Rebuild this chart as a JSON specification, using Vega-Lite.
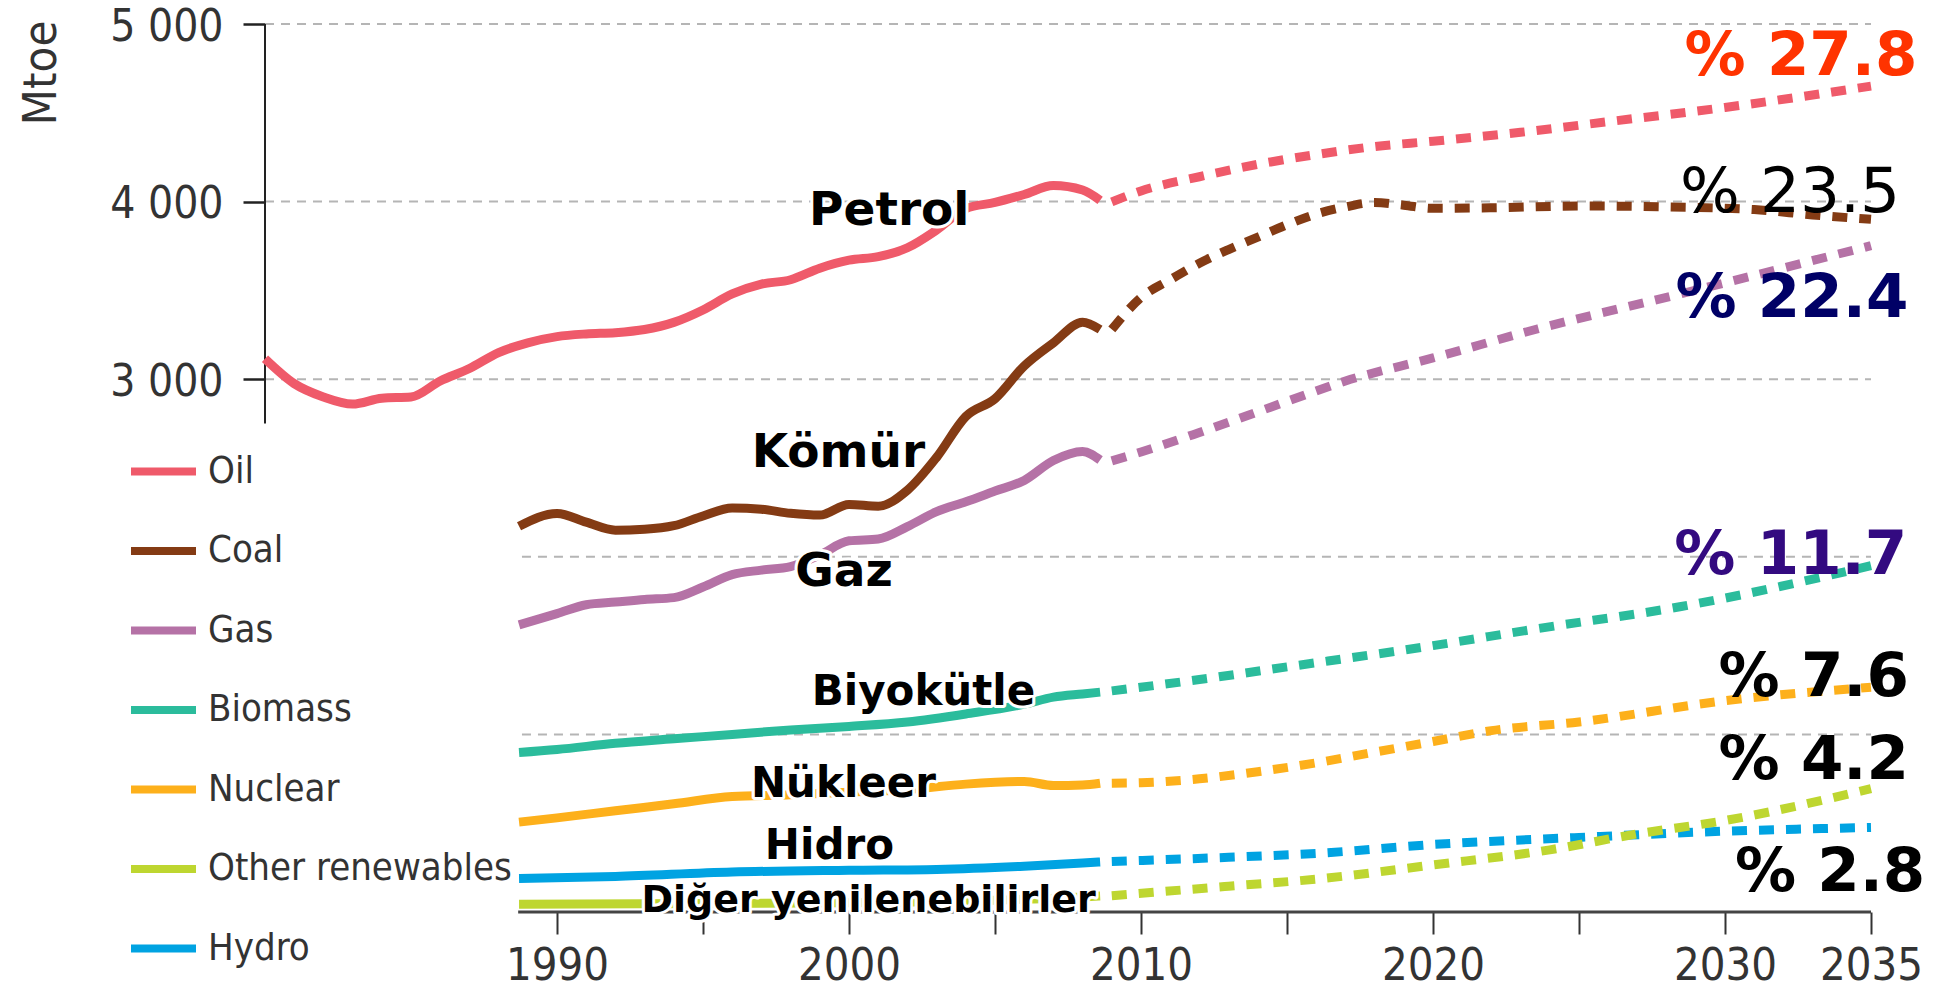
{
  "$schema": "https://vega.github.io/schema/vega-lite/v6.json",
  "width": 1606,
  "height": 888,
  "autosize": "none",
  "padding": {"left": 265, "top": 24, "right": 81, "bottom": 81},
  "background": "white",
  "config": {"view": {"stroke": null}},
  "datasets": {
    "hist": [
      {"fuel": "Oil", "year": 1980, "value": 3115}, {"fuel": "Oil", "year": 1981, "value": 2975}, {"fuel": "Oil", "year": 1982, "value": 2900}, {"fuel": "Oil", "year": 1983, "value": 2860}, {"fuel": "Oil", "year": 1984, "value": 2893}, {"fuel": "Oil", "year": 1985, "value": 2900}, {"fuel": "Oil", "year": 1986, "value": 2990}, {"fuel": "Oil", "year": 1987, "value": 3060}, {"fuel": "Oil", "year": 1988, "value": 3150}, {"fuel": "Oil", "year": 1989, "value": 3205}, {"fuel": "Oil", "year": 1990, "value": 3240}, {"fuel": "Oil", "year": 1991, "value": 3255}, {"fuel": "Oil", "year": 1992, "value": 3262}, {"fuel": "Oil", "year": 1993, "value": 3280}, {"fuel": "Oil", "year": 1994, "value": 3320}, {"fuel": "Oil", "year": 1995, "value": 3390}, {"fuel": "Oil", "year": 1996, "value": 3480}, {"fuel": "Oil", "year": 1997, "value": 3535}, {"fuel": "Oil", "year": 1998, "value": 3560}, {"fuel": "Oil", "year": 1999, "value": 3625}, {"fuel": "Oil", "year": 2000, "value": 3670}, {"fuel": "Oil", "year": 2001, "value": 3690}, {"fuel": "Oil", "year": 2002, "value": 3740}, {"fuel": "Oil", "year": 2003, "value": 3840}, {"fuel": "Oil", "year": 2004, "value": 3960}, {"fuel": "Oil", "year": 2005, "value": 3995}, {"fuel": "Oil", "year": 2006, "value": 4040}, {"fuel": "Oil", "year": 2007, "value": 4090}, {"fuel": "Oil", "year": 2008, "value": 4065}, {"fuel": "Oil", "year": 2008.6, "value": 4007},
      {"fuel": "Coal", "year": 1988.7, "value": 2172}, {"fuel": "Coal", "year": 1990, "value": 2244}, {"fuel": "Coal", "year": 1991, "value": 2195}, {"fuel": "Coal", "year": 1992, "value": 2150}, {"fuel": "Coal", "year": 1993, "value": 2155}, {"fuel": "Coal", "year": 1994, "value": 2175}, {"fuel": "Coal", "year": 1995, "value": 2230}, {"fuel": "Coal", "year": 1996, "value": 2275}, {"fuel": "Coal", "year": 1997, "value": 2268}, {"fuel": "Coal", "year": 1998, "value": 2245}, {"fuel": "Coal", "year": 1999, "value": 2235}, {"fuel": "Coal", "year": 2000, "value": 2295}, {"fuel": "Coal", "year": 2001, "value": 2285}, {"fuel": "Coal", "year": 2002, "value": 2375}, {"fuel": "Coal", "year": 2003, "value": 2560}, {"fuel": "Coal", "year": 2004, "value": 2790}, {"fuel": "Coal", "year": 2005, "value": 2890}, {"fuel": "Coal", "year": 2006, "value": 3075}, {"fuel": "Coal", "year": 2007, "value": 3205}, {"fuel": "Coal", "year": 2008, "value": 3321}, {"fuel": "Coal", "year": 2008.6, "value": 3280},
      {"fuel": "Gas", "year": 1988.7, "value": 1617}, {"fuel": "Gas", "year": 1990, "value": 1680}, {"fuel": "Gas", "year": 1991, "value": 1730}, {"fuel": "Gas", "year": 1992, "value": 1745}, {"fuel": "Gas", "year": 1993, "value": 1760}, {"fuel": "Gas", "year": 1994, "value": 1770}, {"fuel": "Gas", "year": 1995, "value": 1830}, {"fuel": "Gas", "year": 1996, "value": 1900}, {"fuel": "Gas", "year": 1997, "value": 1925}, {"fuel": "Gas", "year": 1998, "value": 1945}, {"fuel": "Gas", "year": 1999, "value": 2010}, {"fuel": "Gas", "year": 2000, "value": 2090}, {"fuel": "Gas", "year": 2001, "value": 2100}, {"fuel": "Gas", "year": 2002, "value": 2170}, {"fuel": "Gas", "year": 2003, "value": 2254}, {"fuel": "Gas", "year": 2004, "value": 2310}, {"fuel": "Gas", "year": 2005, "value": 2370}, {"fuel": "Gas", "year": 2006, "value": 2430}, {"fuel": "Gas", "year": 2007, "value": 2542}, {"fuel": "Gas", "year": 2008, "value": 2593}, {"fuel": "Gas", "year": 2008.6, "value": 2545},
      {"fuel": "Biomass", "year": 1988.7, "value": 898}, {"fuel": "Biomass", "year": 1990, "value": 915}, {"fuel": "Biomass", "year": 1992, "value": 950}, {"fuel": "Biomass", "year": 1994, "value": 975}, {"fuel": "Biomass", "year": 1996, "value": 1000}, {"fuel": "Biomass", "year": 1998, "value": 1025}, {"fuel": "Biomass", "year": 2000, "value": 1045}, {"fuel": "Biomass", "year": 2002, "value": 1070}, {"fuel": "Biomass", "year": 2004, "value": 1115}, {"fuel": "Biomass", "year": 2006, "value": 1170}, {"fuel": "Biomass", "year": 2007, "value": 1210}, {"fuel": "Biomass", "year": 2008, "value": 1228}, {"fuel": "Biomass", "year": 2008.6, "value": 1238},
      {"fuel": "Nuclear", "year": 1988.7, "value": 506}, {"fuel": "Nuclear", "year": 1990, "value": 530}, {"fuel": "Nuclear", "year": 1992, "value": 570}, {"fuel": "Nuclear", "year": 1994, "value": 609}, {"fuel": "Nuclear", "year": 1996, "value": 650}, {"fuel": "Nuclear", "year": 1998, "value": 660}, {"fuel": "Nuclear", "year": 2000, "value": 675}, {"fuel": "Nuclear", "year": 2002, "value": 690}, {"fuel": "Nuclear", "year": 2004, "value": 720}, {"fuel": "Nuclear", "year": 2006, "value": 735}, {"fuel": "Nuclear", "year": 2007, "value": 712}, {"fuel": "Nuclear", "year": 2008, "value": 715}, {"fuel": "Nuclear", "year": 2008.6, "value": 725},
      {"fuel": "Other renewables", "year": 1988.7, "value": 44}, {"fuel": "Other renewables", "year": 1995, "value": 48}, {"fuel": "Other renewables", "year": 2000, "value": 52}, {"fuel": "Other renewables", "year": 2005, "value": 66}, {"fuel": "Other renewables", "year": 2008, "value": 85}, {"fuel": "Other renewables", "year": 2008.6, "value": 90},
      {"fuel": "Hydro", "year": 1988.7, "value": 188}, {"fuel": "Hydro", "year": 1992, "value": 200}, {"fuel": "Hydro", "year": 1996, "value": 225}, {"fuel": "Hydro", "year": 2000, "value": 235}, {"fuel": "Hydro", "year": 2003, "value": 240}, {"fuel": "Hydro", "year": 2006, "value": 258}, {"fuel": "Hydro", "year": 2008, "value": 276}, {"fuel": "Hydro", "year": 2008.6, "value": 282}
    ],
    "proj": [
      {"fuel": "Oil", "year": 2009, "value": 3998}, {"fuel": "Oil", "year": 2010, "value": 4060}, {"fuel": "Oil", "year": 2012, "value": 4140}, {"fuel": "Oil", "year": 2014, "value": 4210}, {"fuel": "Oil", "year": 2016, "value": 4265}, {"fuel": "Oil", "year": 2018, "value": 4310}, {"fuel": "Oil", "year": 2020, "value": 4340}, {"fuel": "Oil", "year": 2023, "value": 4390}, {"fuel": "Oil", "year": 2026, "value": 4450}, {"fuel": "Oil", "year": 2030, "value": 4530}, {"fuel": "Oil", "year": 2035, "value": 4650},
      {"fuel": "Coal", "year": 2009, "value": 3280}, {"fuel": "Coal", "year": 2010, "value": 3460}, {"fuel": "Coal", "year": 2011, "value": 3560}, {"fuel": "Coal", "year": 2012, "value": 3653}, {"fuel": "Coal", "year": 2013, "value": 3730}, {"fuel": "Coal", "year": 2014, "value": 3800}, {"fuel": "Coal", "year": 2015, "value": 3870}, {"fuel": "Coal", "year": 2016, "value": 3930}, {"fuel": "Coal", "year": 2017, "value": 3970}, {"fuel": "Coal", "year": 2018, "value": 3995}, {"fuel": "Coal", "year": 2019, "value": 3980}, {"fuel": "Coal", "year": 2020, "value": 3962}, {"fuel": "Coal", "year": 2022, "value": 3965}, {"fuel": "Coal", "year": 2025, "value": 3975}, {"fuel": "Coal", "year": 2028, "value": 3970}, {"fuel": "Coal", "year": 2031, "value": 3955}, {"fuel": "Coal", "year": 2033, "value": 3925}, {"fuel": "Coal", "year": 2035, "value": 3900},
      {"fuel": "Gas", "year": 2009, "value": 2540}, {"fuel": "Gas", "year": 2010, "value": 2590}, {"fuel": "Gas", "year": 2012, "value": 2700}, {"fuel": "Gas", "year": 2015, "value": 2875}, {"fuel": "Gas", "year": 2017, "value": 2990}, {"fuel": "Gas", "year": 2020, "value": 3120}, {"fuel": "Gas", "year": 2023.6, "value": 3284}, {"fuel": "Gas", "year": 2028.5, "value": 3481}, {"fuel": "Gas", "year": 2035, "value": 3752},
      {"fuel": "Biomass", "year": 2009, "value": 1245}, {"fuel": "Biomass", "year": 2012, "value": 1309}, {"fuel": "Biomass", "year": 2015, "value": 1380}, {"fuel": "Biomass", "year": 2020, "value": 1500}, {"fuel": "Biomass", "year": 2023.6, "value": 1596}, {"fuel": "Biomass", "year": 2028.5, "value": 1720}, {"fuel": "Biomass", "year": 2035, "value": 1950},
      {"fuel": "Nuclear", "year": 2009, "value": 725}, {"fuel": "Nuclear", "year": 2010, "value": 728}, {"fuel": "Nuclear", "year": 2012, "value": 750}, {"fuel": "Nuclear", "year": 2014, "value": 790}, {"fuel": "Nuclear", "year": 2016, "value": 840}, {"fuel": "Nuclear", "year": 2018, "value": 900}, {"fuel": "Nuclear", "year": 2020, "value": 960}, {"fuel": "Nuclear", "year": 2022, "value": 1021}, {"fuel": "Nuclear", "year": 2025, "value": 1070}, {"fuel": "Nuclear", "year": 2030, "value": 1190}, {"fuel": "Nuclear", "year": 2035, "value": 1265},
      {"fuel": "Hydro", "year": 2009, "value": 285}, {"fuel": "Hydro", "year": 2013, "value": 308}, {"fuel": "Hydro", "year": 2016, "value": 330}, {"fuel": "Hydro", "year": 2020, "value": 380}, {"fuel": "Hydro", "year": 2025, "value": 420}, {"fuel": "Hydro", "year": 2030, "value": 455}, {"fuel": "Hydro", "year": 2035, "value": 476},
      {"fuel": "Other renewables", "year": 2009, "value": 92}, {"fuel": "Other renewables", "year": 2013, "value": 145}, {"fuel": "Other renewables", "year": 2016, "value": 185}, {"fuel": "Other renewables", "year": 2020, "value": 265}, {"fuel": "Other renewables", "year": 2024, "value": 350}, {"fuel": "Other renewables", "year": 2027, "value": 440}, {"fuel": "Other renewables", "year": 2030, "value": 515}, {"fuel": "Other renewables", "year": 2035, "value": 695}
    ],
    "grid": [
      {"value": 5000, "from": 1980, "to": 2035},
      {"value": 4000, "from": 1980, "to": 2035},
      {"value": 3000, "from": 1980, "to": 2035},
      {"value": 2000, "from": 1988.8, "to": 2035},
      {"value": 1000, "from": 1988.8, "to": 2035}
    ],
    "labels": [
      {"label": "Petrol", "year": 2001.38, "value": 3867},
      {"label": "Kömür", "year": 1999.64, "value": 2508},
      {"label": "Gaz", "year": 1999.83, "value": 1833},
      {"label": "Biyokütle", "year": 2002.55, "value": 1164},
      {"label": "Nükleer", "year": 1999.81, "value": 647},
      {"label": "Hidro", "year": 1999.33, "value": 301},
      {"label": "Diğer yenilenebilirler", "year": 2000.67, "value": 0}
    ],
    "shares": [
      {"label": "% 27.8", "year": 2036.59, "value": 4711},
      {"label": "% 23.5", "year": 2036.0, "value": 3941},
      {"label": "% 22.4", "year": 2036.28, "value": 3350},
      {"label": "% 11.7", "year": 2036.24, "value": 1904},
      {"label": "% 7.6", "year": 2036.3, "value": 1219},
      {"label": "% 4.2", "year": 2036.3, "value": 750},
      {"label": "% 2.8", "year": 2036.86, "value": 121}
    ]
  },
  "layer": [
    {
      "data": {"name": "grid"},
      "mark": {"type": "rule", "stroke": "#B5B5B5", "strokeWidth": 2, "strokeDash": [9, 7]},
      "encoding": {
        "x": {
          "field": "from", "type": "quantitative", "title": null,
          "scale": {"domain": [1980, 2035], "nice": false, "zero": false},
          "axis": {
            "title": null,
            "values": [1990, 1995, 2000, 2005, 2010, 2015, 2020, 2025, 2030, 2035],
            "labelExpr": "(datum.value % 10 == 0 || datum.value == 2035) ? ('' + datum.value) : ''",
            "domain": false, "grid": false,
            "tickSize": 22, "tickWidth": 2, "tickColor": "#333333",
            "labelPadding": 9, "labelBaseline": "top",
            "labelFont": "DejaVu Sans Condensed, Liberation Sans, sans-serif", "labelFontSize": 45, "labelColor": "#333333",
            "labelFlush": false, "labelOverlap": false
          }
        },
        "x2": {"field": "to"},
        "y": {
          "field": "value", "type": "quantitative", "title": "Mtoe",
          "scale": {"domain": [0, 5000], "nice": false},
          "axis": {
            "title": "Mtoe",
            "values": [3000, 4000, 5000],
            "labelExpr": "replace(format(datum.value, ','), ',', ' ')",
            "domain": false, "grid": false,
            "tickSize": 22, "tickWidth": 2.5, "tickColor": "#222222",
            "labelPadding": 20, "labelOffset": 3,
            "labelFont": "DejaVu Sans Condensed, Liberation Sans, sans-serif", "labelFontSize": 44, "labelColor": "#333333",
            "labelFlush": false, "labelOverlap": false,
            "titleFont": "DejaVu Sans Condensed, Liberation Sans, sans-serif", "titleFontSize": 47, "titleFontWeight": "normal", "titleColor": "#333333",
            "titleAngle": 270, "titleAlign": "right", "titleBaseline": "alphabetic",
            "titleX": -210, "titleY": -4
          }
        }
      }
    },
    {
      "data": {"values": [{"year": 1980, "lo": 2751, "hi": 5000}]},
      "mark": {"type": "rule", "stroke": "#222222", "strokeWidth": 2},
      "encoding": {
        "x": {"field": "year", "type": "quantitative", "title": null},
        "y": {"field": "lo", "type": "quantitative", "title": "Mtoe"},
        "y2": {"field": "hi"}
      }
    },
    {
      "data": {"values": [{"value": 0, "from": 1988.67, "to": 2035}]},
      "mark": {"type": "rule", "stroke": "#444444", "strokeWidth": 3},
      "encoding": {
        "x": {"field": "from", "type": "quantitative", "title": null},
        "x2": {"field": "to"},
        "y": {"field": "value", "type": "quantitative", "title": "Mtoe"}
      }
    },
    {
      "data": {"name": "hist"},
      "mark": {"type": "line", "strokeWidth": 9, "interpolate": "monotone", "strokeJoin": "round", "strokeCap": "butt"},
      "encoding": {
        "x": {"field": "year", "type": "quantitative", "title": null},
        "y": {"field": "value", "type": "quantitative", "title": "Mtoe"},
        "color": {
          "field": "fuel", "type": "nominal",
          "scale": {
            "domain": ["Oil", "Coal", "Gas", "Biomass", "Nuclear", "Other renewables", "Hydro"],
            "range": ["#EF5A6A", "#843B14", "#B572A6", "#2BBC9C", "#FDB01B", "#BED630", "#00A3E2"]
          },
          "legend": {
            "title": null, "orient": "none", "legendX": -138, "legendY": 411,
            "symbolType": "stroke", "symbolSize": 4225, "symbolStrokeWidth": 8,
            "labelFont": "DejaVu Sans Condensed, Liberation Sans, sans-serif", "labelFontSize": 38, "labelColor": "#333333",
            "labelOffset": 8, "labelLimit": 500, "rowPadding": 23.5, "padding": 0
          }
        }
      }
    },
    {
      "data": {"name": "proj"},
      "mark": {"type": "line", "strokeWidth": 9, "interpolate": "monotone", "strokeDash": [15, 12], "strokeCap": "butt"},
      "encoding": {
        "x": {"field": "year", "type": "quantitative", "title": null},
        "y": {"field": "value", "type": "quantitative", "title": "Mtoe"},
        "color": {"field": "fuel", "type": "nominal"}
      }
    },
    {
      "data": {"name": "labels"},
      "mark": {"type": "text", "font": "DejaVu Sans", "fontWeight": "bold", "stroke": "white", "strokeWidth": 6, "strokeJoin": "round", "fill": "white", "align": "center", "baseline": "alphabetic"},
      "encoding": {
        "x": {"field": "year", "type": "quantitative", "title": null},
        "y": {"field": "value", "type": "quantitative", "title": "Mtoe"},
        "text": {"field": "label"},
        "size": {"condition": [{"test": "indexof(['Petrol','Kömür','Gaz'], datum.label) >= 0", "value": 47}, {"test": "datum.label == 'Diğer yenilenebilirler'", "value": 38}], "value": 42}
      }
    },
    {
      "data": {"name": "labels"},
      "mark": {"type": "text", "font": "DejaVu Sans", "fontWeight": "bold", "fill": "black", "align": "center", "baseline": "alphabetic"},
      "encoding": {
        "x": {"field": "year", "type": "quantitative", "title": null},
        "y": {"field": "value", "type": "quantitative", "title": "Mtoe"},
        "text": {"field": "label"},
        "size": {"condition": [{"test": "indexof(['Petrol','Kömür','Gaz'], datum.label) >= 0", "value": 47}, {"test": "datum.label == 'Diğer yenilenebilirler'", "value": 38}], "value": 42}
      }
    },
    {
      "data": {"name": "shares"},
      "transform": [{"filter": "datum.label != '% 23.5'"}],
      "mark": {"type": "text", "font": "DejaVu Sans", "fontWeight": "bold", "fontSize": 61, "align": "right", "baseline": "alphabetic"},
      "encoding": {
        "x": {"field": "year", "type": "quantitative", "title": null},
        "y": {"field": "value", "type": "quantitative", "title": "Mtoe"},
        "text": {"field": "label"},
        "color": {"condition": [{"test": "datum.label == '% 27.8'", "value": "#FF3300"}, {"test": "datum.label == '% 22.4'", "value": "#000066"}, {"test": "datum.label == '% 11.7'", "value": "#330A80"}], "value": "#000000"}
      }
    },
    {
      "data": {"name": "shares"},
      "transform": [{"filter": "datum.label == '% 23.5'"}],
      "mark": {"type": "text", "font": "DejaVu Sans", "fontWeight": "normal", "fontSize": 63, "align": "right", "baseline": "alphabetic", "fill": "#000000"},
      "encoding": {
        "x": {"field": "year", "type": "quantitative", "title": null},
        "y": {"field": "value", "type": "quantitative", "title": "Mtoe"},
        "text": {"field": "label"}
      }
    }
  ]
}
